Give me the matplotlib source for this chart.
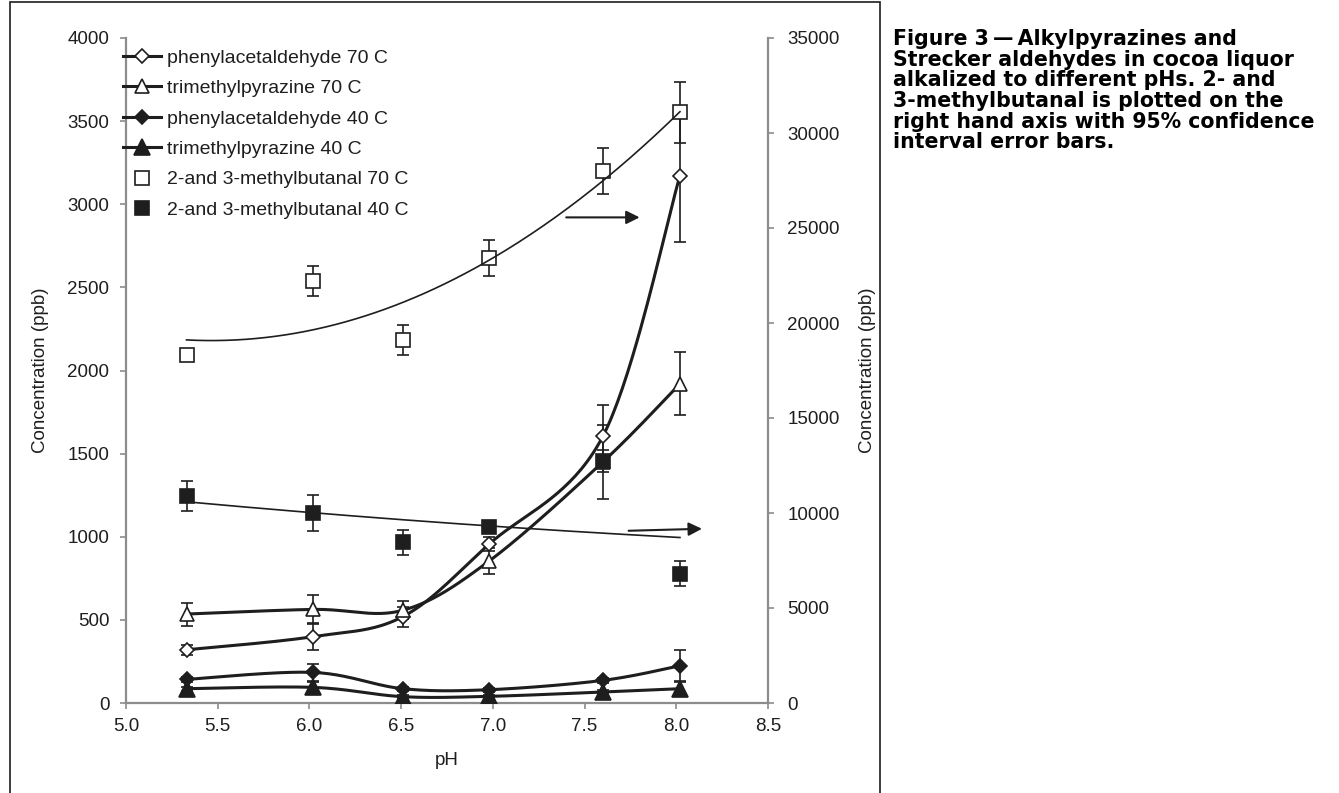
"""Alkylpyrazines and Strecker aldehydes in cocoa liquor vs pH (figure 3 redraw)."""
import matplotlib
matplotlib.use('Agg')
import matplotlib.pyplot as plt
import numpy as np
from matplotlib.lines import Line2D
from matplotlib.patches import Rectangle

plt.rcParams['font.family'] = ['Liberation Sans', 'DejaVu Sans']

W_PX, H_PX = 1339, 793
INK = '#1e1e1e'
AXC = '#8c8c8c'

# ---------------- data (ppb) ----------------
ph = [5.33, 6.02, 6.51, 6.98, 7.60, 8.02]

phenyl_70 = [320, 399, 520, 956, 1605, 3172]
phenyl_70_err = [30, 80, 60, 40, 190, 397]
trimethyl_70 = [535, 563, 558, 854, 1450, 1920]
trimethyl_70_err = [69, 85, 55, 78, 225, 190]
phenyl_40 = [142, 184, 86, 80, 136, 224]
phenyl_40_err = [15, 49, 12, 12, 15, 95]
trimethyl_40 = [86, 94, 38, 40, 66, 86]
trimethyl_40_err = [12, 35, 8, 8, 10, 44]

# 2- and 3-methylbutanal, right hand axis
mb_70 = [18300, 22200, 19100, 23400, 28000, 31100]
mb_70_err = [250, 800, 810, 950, 1200, 1600]
mb_40 = [10900, 10000, 8450, 9250, 12750, 6800]
mb_40_err = [810, 950, 680, 250, 590, 665]

# trendline values (right axis units)
trend_70_x = [5.33, 6.50, 8.02]
trend_70_y = [19110, 21050, 31120]
trend_40_x = [5.33, 6.95, 8.02]
trend_40_y = [10590, 9340, 8710]

# arrows pointing to the right hand axis (left axis units)
arrow_70 = [(7.40, 2921), (7.80, 2921)]
arrow_40 = [(7.74, 1036), (8.14, 1048)]

labels = ['phenylacetaldehyde 70 C', 'trimethylpyrazine 70 C',
          'phenylacetaldehyde 40 C', 'trimethylpyrazine 40 C',
          '2-and 3-methylbutanal 70 C', '2-and 3-methylbutanal 40 C']

caption = ('Figure 3\u2009\u2014\u2009Alkylpyrazines and\n'
           'Strecker aldehydes in cocoa liquor\n'
           'alkalized to different pHs. 2- and\n'
           '3-methylbutanal is plotted on the\n'
           'right hand axis with 95% confidence\n'
           'interval error bars.')


def excel_smooth(x, y, n=40):
    """Excel style smoothed line: cubic bezier with 1/6 neighbour tangents."""
    p = np.column_stack([x, y]).astype(float)
    out = []
    for i in range(len(p) - 1):
        p0 = p[max(i - 1, 0)]; p1 = p[i]; p2 = p[i + 1]; p3 = p[min(i + 2, len(p) - 1)]
        c1 = p1 + (p2 - p0) / 6.0
        c2 = p2 - (p3 - p1) / 6.0
        t = np.linspace(0, 1, n)[:, None]
        seg = ((1 - t) ** 3) * p1 + 3 * ((1 - t) ** 2) * t * c1 + 3 * (1 - t) * t ** 2 * c2 + t ** 3 * p2
        out.append(seg if i == 0 else seg[1:])
    s = np.vstack(out)
    return s[:, 0], s[:, 1]


fig = plt.figure(figsize=(W_PX / 100, H_PX / 100), dpi=100)
fig.patch.set_facecolor('white')
ax = fig.add_axes([126 / W_PX, (H_PX - 703) / H_PX, (768 - 126) / W_PX, 665 / H_PX])
ax2 = ax.twinx()
ax.patch.set_visible(False)

ERR = dict(fmt='none', ecolor=INK, elinewidth=1.2, capsize=4.3, capthick=1.2)

series = [
    (phenyl_70, phenyl_70_err, 'D', 'white', 7.2),
    (trimethyl_70, trimethyl_70_err, '^', 'white', 10.5),
    (phenyl_40, phenyl_40_err, 'D', INK, 7.6),
    (trimethyl_40, trimethyl_40_err, '^', INK, 11),
]
handles = []
for vals, err, mk, face, ms in series:
    ax.errorbar(ph, vals, yerr=err, zorder=2, **ERR)
    sx, sy = excel_smooth(ph, vals)
    ax.plot(sx, sy, color=INK, lw=2.2, zorder=3, solid_capstyle='round')
    ax.plot(ph, vals, ls='none', marker=mk, ms=ms, mfc=face, mec=INK, mew=1.2, zorder=4)
    handles.append(Line2D([], [], color=INK, lw=2.2, marker=mk, ms=ms, mfc=face, mec=INK, mew=1.2))

# methylbutanal on right axis with trendlines
for vals, err, face, tx, ty in [(mb_70, mb_70_err, 'white', trend_70_x, trend_70_y),
                                (mb_40, mb_40_err, INK, trend_40_x, trend_40_y)]:
    ax2.errorbar(ph, vals, yerr=err, zorder=2, **ERR)
    ax2.plot(ph, vals, ls='none', marker='s', ms=10, mfc=face, mec=INK, mew=1.2, zorder=3)
    coef = np.polyfit(tx, ty, 2)
    xx = np.linspace(ph[0], ph[-1], 200)
    ax2.plot(xx, np.polyval(coef, xx), color=INK, lw=1.2, zorder=4)
    handles.append(Line2D([], [], ls='none', marker='s', ms=10, mfc=face, mec=INK, mew=1.2))

for (x0, y0), (x1, y1) in [arrow_70, arrow_40]:
    ax.annotate('', xy=(x1, y1), xytext=(x0, y0),
                arrowprops=dict(arrowstyle='-|>', color=INK, lw=1.5,
                                mutation_scale=20, shrinkA=0, shrinkB=0))

# axes, ticks
ax.set_xlim(5.0, 8.5)
ax.set_ylim(0, 4000)
ax2.set_ylim(0, 35000)
ax.set_xticks(np.arange(5.0, 8.51, 0.5))
ax.set_xticklabels([f'{v:.1f}' for v in np.arange(5.0, 8.51, 0.5)])
ax.set_yticks(np.arange(0, 4001, 500))
ax2.set_yticks(np.arange(0, 35001, 5000))

for a in (ax, ax2):
    for s in a.spines.values():
        s.set_visible(False)
    a.tick_params(direction='out', length=4, width=1.2, color=AXC,
                  labelsize=13.5, labelcolor=INK)
ax.spines['left'].set_visible(True)
ax.spines['bottom'].set_visible(True)
ax2.spines['right'].set_visible(True)
for s in (ax.spines['left'], ax.spines['bottom'], ax2.spines['right']):
    s.set_color(AXC); s.set_linewidth(1.6)
ax.tick_params(axis='y', pad=8)
ax.tick_params(axis='x', pad=7)
ax2.tick_params(axis='y', pad=10)

ax.set_xlabel('pH', fontsize=13.5, color=INK, va='center')
ax.xaxis.set_label_coords(0.5, -0.086)
ax.set_ylabel('Concentration (ppb)', fontsize=13.5, color=INK, va='center')
ax.yaxis.set_label_coords((40 - 126) / 642, 0.5)
ax2.set_ylabel('Concentration (ppb)', fontsize=13.5, color=INK, va='center', rotation=90)
ax2.yaxis.set_label_coords((867 - 126) / 642, 0.5)

ax2.legend(handles, labels, loc='upper left', bbox_to_anchor=(123 / W_PX, 1 - 49 / H_PX),
           bbox_transform=fig.transFigure, frameon=False, fontsize=14,
           handlelength=1.95, handletextpad=0.3, labelspacing=0.66,
           borderpad=0, borderaxespad=0, labelcolor=INK)

# outer frame and caption
fig.add_artist(Rectangle((10 / W_PX, -0.01), (880 - 10) / W_PX, 1.01 - 2 / H_PX,
                         transform=fig.transFigure, fill=False, ec=INK, lw=1.2))
fig.text(893 / W_PX, 1 - 29 / H_PX, caption, ha='left', va='top', fontsize=14.8,
         fontweight='bold', family=['DejaVu Sans'], color='black', linespacing=1.04)

fig.savefig('out.png', dpi=100, facecolor='white')
